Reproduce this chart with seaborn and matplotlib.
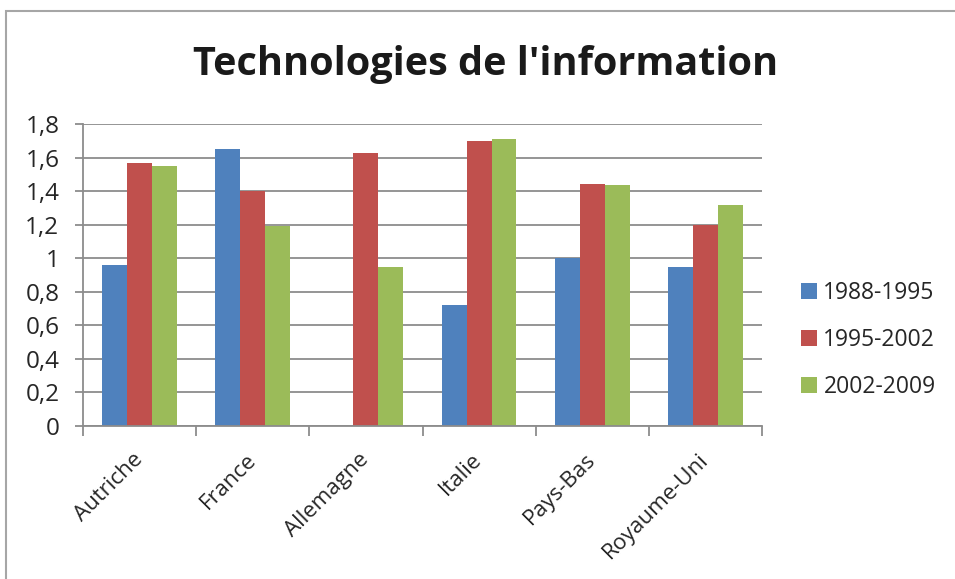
import numpy as np
import pandas as pd
import seaborn as sns
import matplotlib
matplotlib.use("Agg")
from matplotlib import pyplot as plt
from matplotlib.patches import Rectangle
from matplotlib.ticker import FixedLocator

sns.set_theme(style="white")
plt.rcParams['font.family'] = ['Open Sans', 'DejaVu Sans']

countries = ["Autriche", "France", "Allemagne", "Italie", "Pays-Bas", "Royaume-Uni"]
periods = ["1988-1995", "1995-2002", "2002-2009"]
v_1988_1995 = [0.96, 1.65, None, 0.72, 1.00, 0.95]
v_1995_2002 = [1.57, 1.40, 1.63, 1.70, 1.44, 1.20]
v_2002_2009 = [1.55, 1.19, 0.95, 1.71, 1.435, 1.32]
colors = ["#4F81BD", "#C0504D", "#9BBB59"]
yticks = [0, 0.2, 0.4, 0.6, 0.8, 1.0, 1.2, 1.4, 1.6, 1.8]

rows = []
for p, vals in zip(periods, [v_1988_1995, v_1995_2002, v_2002_2009]):
    for c, v in zip(countries, vals):
        if v is not None:
            rows.append({"pays": c, "periode": p, "valeur": v})
df = pd.DataFrame(rows)

fig = plt.figure(figsize=(9.55, 5.79), dpi=100)
ax = fig.add_axes([83/955, 1-426/579, (762-83)/955, (426-124)/579])

sns.barplot(data=df, x="pays", y="valeur", hue="periode",
            order=countries, hue_order=periods, palette=colors,
            width=0.66, gap=0, linewidth=0, saturation=1,
            errorbar=None, ax=ax)

grid_c = "#8C8C8C"
txt_c = "#262626"
ax.set_ylim(0, 1.8)
ax.set_xlim(-0.5, 5.5)
ax.set_yticks(yticks)
ax.set_yticklabels([("%g" % t).replace(".", ",") for t in yticks], fontsize=17.5, color=txt_c)
ax.yaxis.grid(True, color=grid_c, linewidth=1.3)
ax.set_axisbelow(True)
for s in ["top", "right"]:
    ax.spines[s].set_visible(False)
for s in ["left", "bottom"]:
    ax.spines[s].set_color(grid_c)
    ax.spines[s].set_linewidth(1.3)
ax.tick_params(axis="y", length=6, width=1.3, color=grid_c, left=True, pad=11)
ax.set_xticks(range(len(countries)))
ax.set_xticklabels(countries, rotation=45, ha="right", va="center", rotation_mode="anchor",
                   fontsize=16, color=txt_c)
ax.tick_params(axis="x", which="major", length=0, pad=22)
ax.xaxis.set_minor_locator(FixedLocator(np.arange(-0.5, 6, 1)))
ax.tick_params(axis="x", which="minor", length=7, width=1.3, color=grid_c, bottom=True)
ax.set_xlabel("")
ax.set_ylabel("")

leg = ax.legend(loc="center left", bbox_to_anchor=(1.027, 0.285), frameon=False,
                fontsize=16.5, handlelength=0.68, handleheight=0.68, labelspacing=1.0,
                handletextpad=0.3)
for t in leg.get_texts():
    t.set_color(txt_c)

fig.text(486/955, 1-65/579, "Technologies de l'information", ha="center", va="center",
         fontsize=28.5, fontweight="bold", color="#1a1a1a")

fig.patches.append(Rectangle((6/955, -0.05), 1.2, 1-11/579+0.05, transform=fig.transFigure,
                             fill=False, edgecolor="#A6A6A6", linewidth=1.5))

fig.savefig("out.png", dpi=100)
